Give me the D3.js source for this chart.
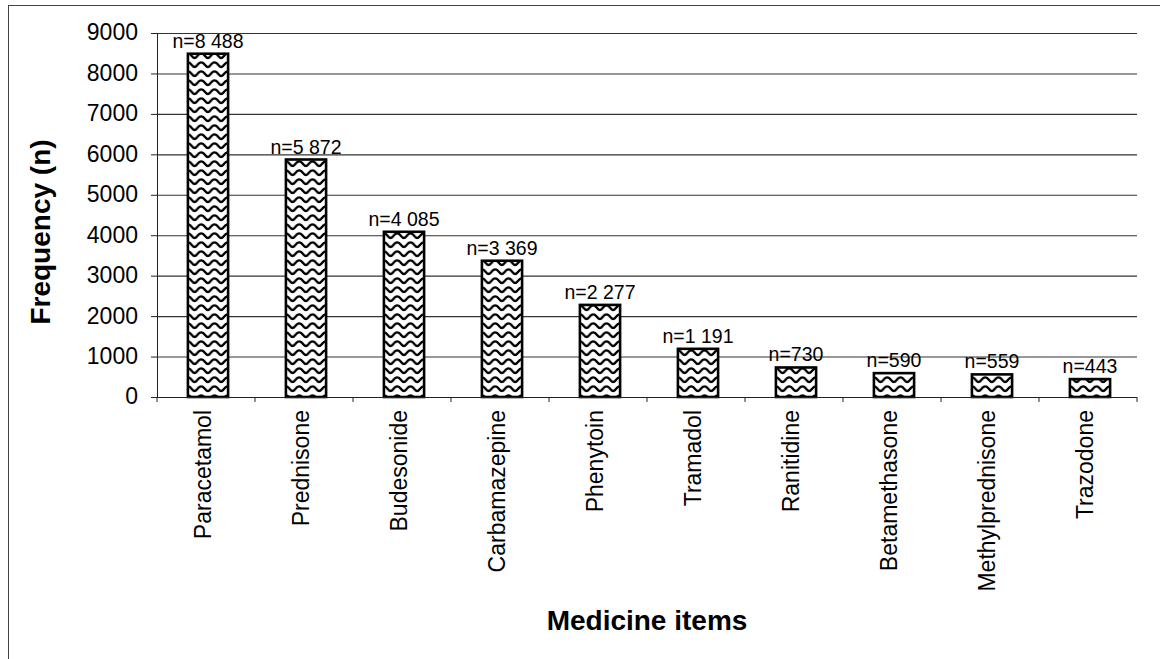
<!DOCTYPE html>
<html><head><meta charset="utf-8">
<script src="https://cdn.jsdelivr.net/npm/d3@7/dist/d3.min.js"></script>
<style>body{margin:0;background:#fff}svg{display:block}text{font-family:"Liberation Sans",Arial,sans-serif;fill:#000}</style>
</head><body>
<svg id="c" width="1160" height="659"></svg>
<script>
const categories = ["Paracetamol","Prednisone","Budesonide","Carbamazepine","Phenytoin","Tramadol","Ranitidine","Betamethasone","Methylprednisone","Trazodone"];
const values = [8488,5872,4085,3369,2277,1191,730,590,559,443];
const valueLabels = ["n=8 488","n=5 872","n=4 085","n=3 369","n=2 277","n=1 191","n=730","n=590","n=559","n=443"];
const yTicks = [0,1000,2000,3000,4000,5000,6000,7000,8000,9000];

const svg = d3.select("#c");
const L = 157, R = 1137, T = 33, B = 397;

// frame
svg.append("rect").attr("x",8.5).attr("y",5.5).attr("width",1160).attr("height",700)
  .attr("fill","none").attr("stroke","#444").attr("stroke-width",1);

// wave pattern
const PW = 13.3, PH = 9;
const defs = svg.append("defs");
const pat = defs.append("pattern").attr("id","wave").attr("patternUnits","userSpaceOnUse")
  .attr("width",PW).attr("height",PH).attr("y",-2);
pat.append("rect").attr("width",PW).attr("height",PH).attr("fill","#fff");
const wave = `M-6.65,5 C-4.2,5 -3.3,0.3 0,0.3 C3.3,0.3 4.2,5 6.65,5 C9.1,5 10,0.3 13.3,0.3 C16.6,0.3 17.5,5 19.95,5`;
[-PH,0,PH].forEach(o=>pat.append("path").attr("d",wave).attr("transform",`translate(0,${o})`)
  .attr("fill","none").attr("stroke","#000").attr("stroke-width",2.3));

const x = d3.scaleBand().domain(categories).range([L,R]).paddingInner(0.59).paddingOuter(0.295);
const xb = d3.scaleBand().domain(categories).range([L,R]);
const y = d3.scaleLinear().domain([0,9000]).range([B,T]);

// gridlines
svg.append("g").selectAll("line").data(yTicks.filter(d=>d>0)).join("line")
  .attr("x1",L).attr("x2",R).attr("y1",d=>y(d)+0.5).attr("y2",d=>y(d)+0.5)
  .attr("stroke","#333").attr("stroke-width",1.1);

// y axis
const ya = svg.append("g").attr("transform",`translate(${L},0)`)
  .call(d3.axisLeft(y).tickValues(yTicks).tickSize(6).tickPadding(13).tickFormat(d3.format("d")));
ya.select(".domain").attr("stroke","#222");
ya.selectAll("line").attr("stroke","#222");
ya.selectAll("text").style("font-size","23px").attr("dy","0.3em");

// bars
const bars = svg.append("g").selectAll("g").data(values).join("g")
  .attr("transform",(d,i)=>`translate(${x(categories[i])+2},${B})`);
bars.append("rect").attr("x",0).attr("width",x.bandwidth())
  .attr("y",d=>y(d)-B).attr("height",d=>B-y(d))
  .attr("fill","url(#wave)").attr("stroke","#000").attr("stroke-width",2.6);

// x axis
svg.append("line").attr("x1",L).attr("x2",R).attr("y1",B+0.5).attr("y2",B+0.5).attr("stroke","#222");
svg.append("g").selectAll("line").data(d3.range(categories.length+1)).join("line")
  .attr("x1",i=>L+i*xb.bandwidth()).attr("x2",i=>L+i*xb.bandwidth())
  .attr("y1",B).attr("y2",B+5).attr("stroke","#222");

// category labels
svg.append("g").selectAll("text").data(categories).join("text")
  .attr("transform",d=>`translate(${xb(d)+xb.bandwidth()/2+5},${B+13}) rotate(-90)`)
  .attr("text-anchor","end").style("font-size","23px").text(d=>d);

// value labels
svg.append("g").selectAll("text").data(values).join("text")
  .attr("x",(d,i)=>xb(categories[i])+xb.bandwidth()/2+2)
  .attr("y",d=>y(d)-6).attr("text-anchor","middle").style("font-size","19.5px")
  .text((d,i)=>valueLabels[i]);

// axis titles
svg.append("text").attr("transform","translate(50,232) rotate(-90)").attr("text-anchor","middle")
  .style("font-size","28px").style("font-weight","bold").text("Frequency (n)");
svg.append("text").attr("x",647).attr("y",630).attr("text-anchor","middle")
  .style("font-size","28px").style("font-weight","bold").text("Medicine items");
</script>
</body></html>
